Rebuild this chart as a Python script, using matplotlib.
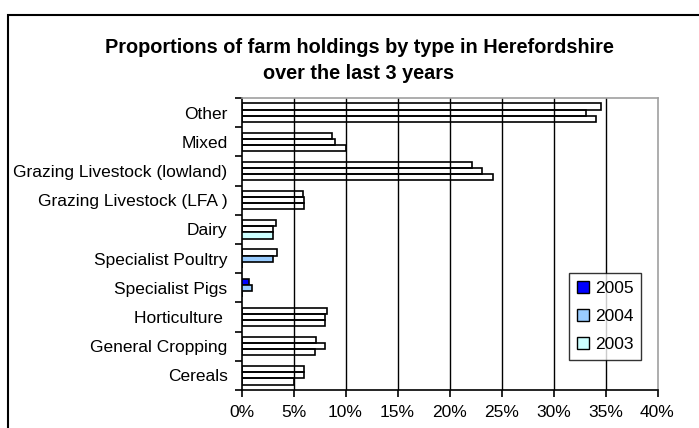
import matplotlib
matplotlib.use("Agg")
import matplotlib.pyplot as plt
from matplotlib.patches import Rectangle, Patch
import numpy as np

plt.rcParams['font.family'] = ['Liberation Sans', 'DejaVu Sans']

categories = ["Cereals", "General Cropping", "Horticulture ", "Specialist Pigs",
              "Specialist Poultry", "Dairy", "Grazing Livestock (LFA )",
              "Grazing Livestock (lowland)", "Mixed", "Other"]
series_names = ["2005", "2004", "2003"]
v2005 = [6.0, 7.2, 8.25, 0.75, 3.45, 3.3, 5.95, 22.2, 8.7, 34.6]
v2004 = [6.0, 8.0, 8.0, 1.05, 3.0, 3.0, 6.05, 23.1, 9.0, 33.1]
v2003 = [5.0, 7.1, 8.0, 0.0, 0.0, 3.0, 6.05, 24.2, 10.0, 34.1]
values = [v2005, v2004, v2003]
xticks = [0, 5, 10, 15, 20, 25, 30, 35, 40]
xticklabels = ["0%", "5%", "10%", "15%", "20%", "25%", "30%", "35%", "40%"]
title = "Proportions of farm holdings by type in Herefordshire\nover the last 3 years"

# style
series_colors = ["#0000FF", "#99CCFF", "#CCFFFF"]
# bars whose fill is visible in the reference (others render unfilled)
filled = {"2005": ["Specialist Pigs"],
          "2004": ["Specialist Pigs", "Specialist Poultry"],
          "2003": ["Dairy"]}

W, H = 699, 428
fig = plt.figure(figsize=(W / 100, H / 100), dpi=100)
fig.patch.set_facecolor("white")

ax = fig.add_axes([241.5 / W, 1 - 390 / H, (657.5 - 241.5) / W, (390 - 98) / H])

y = np.arange(len(categories))
h = 0.21
offsets = [h, 0.0, -h]
for s, (name, vals, col, off) in enumerate(zip(series_names, values, series_colors, offsets)):
    fcs = [col if c in filled[name] else "none" for c in categories]
    ax.barh(y + off, vals, height=h, color=fcs, edgecolor="black",
            linewidth=1.2, zorder=3)

for t in xticks[1:-1]:
    ax.axvline(t, color="black", linewidth=1.0, zorder=1)

ax.set_xlim(xticks[0], xticks[-1])
ax.set_ylim(-0.5, len(categories) - 0.5)
ax.set_xticks(xticks)
ax.set_xticklabels(xticklabels, fontsize=12.5)
ax.set_yticks(y)
ax.set_yticklabels(categories, fontsize=12.5)
ax.set_yticks(np.arange(len(categories) + 1) - 0.5, minor=True)
ax.tick_params(axis="y", which="major", length=0, pad=10)
ax.tick_params(axis="y", which="minor", length=5, width=1.2, color="black")
ax.tick_params(axis="x", which="major", length=5, width=1.2, pad=6)

for sp in ["left", "bottom"]:
    ax.spines[sp].set_color("black")
    ax.spines[sp].set_linewidth(1.2)
for sp in ["top", "right"]:
    ax.spines[sp].set_color("#A0A0A0")
    ax.spines[sp].set_linewidth(1.2)

fig.text(359 / W, 1 - 60.5 / H, title, ha="center", va="center",
         fontsize=14.3, fontweight="bold", linespacing=1.5)

handles = [Patch(facecolor=c, edgecolor="black", linewidth=1.0) for c in series_colors]
leg = ax.legend(handles, series_names, loc="upper left",
                bbox_to_anchor=((569 - 241.5) / (657.5 - 241.5), (390 - 273) / (390 - 98)),
                fontsize=12.5, frameon=True, fancybox=False, borderpad=0.45,
                labelspacing=0.75, handlelength=0.7, handleheight=0.7,
                handletextpad=0.35, borderaxespad=0)
leg.get_frame().set_edgecolor("black")
leg.get_frame().set_linewidth(1.0)
leg.set_zorder(5)

fig.patches.append(Rectangle((8 / W, -0.2), 1.5, 1.2 - 15 / H, transform=fig.transFigure,
                             fill=False, edgecolor="black", linewidth=1.5))

fig.savefig("out.png", dpi=100)
